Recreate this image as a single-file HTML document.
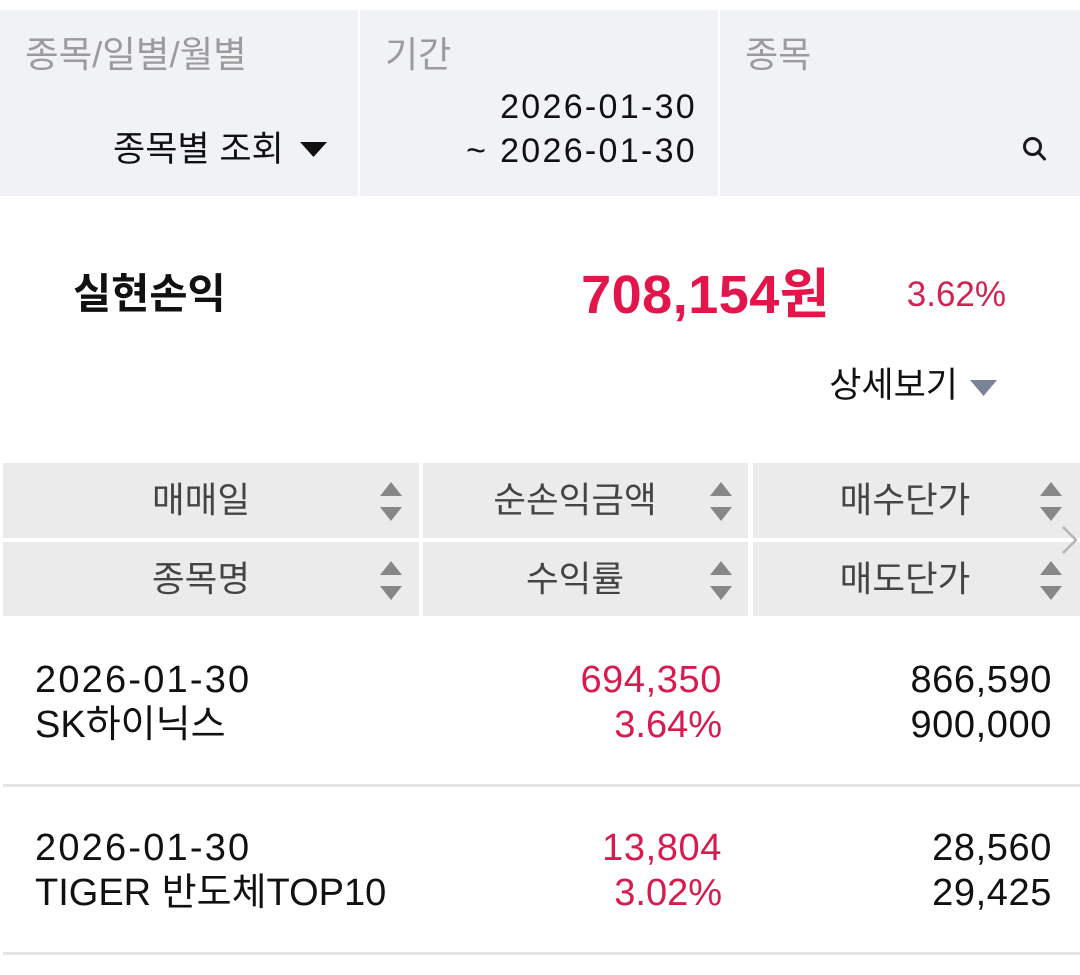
<!DOCTYPE html>
<html>
<head>
<meta charset="utf-8">
<style>
  html, body { margin:0; padding:0; }
  body { width:1080px; height:975px; overflow:hidden; background:#ffffff; position:relative;
         font-family:"Liberation Sans","Noto Sans CJK KR",sans-serif; }
  .a { position:absolute; white-space:nowrap; }
  .panel { position:absolute; top:10px; height:186px; background:#f1f2f6; }
  .th { position:absolute; background:#ebebeb; }
  .thtxt { position:absolute; white-space:nowrap; font-size:35.5px; color:#444; line-height:40px; text-align:center; }
  .sep { position:absolute; left:3px; width:1077px; height:3px; background:#e4e4e4; }
  .num { position:absolute; white-space:nowrap; font-size:38px; line-height:44px; text-align:right; }
  .red { color:#d81b4e; }
  .blk { color:#111; }
</style>
</head>
<body>

<!-- top search panel -->
<div class="panel" style="left:0;width:358px;"></div>
<div class="panel" style="left:360px;width:358px;"></div>
<div class="panel" style="left:720px;width:360px;"></div>

<div class="a" style="left:25px;top:34px;font-size:36.5px;line-height:42px;color:#9b9b9b;">종목/일별/월별</div>
<div class="a" style="left:113px;top:129px;font-size:35px;line-height:42px;color:#111;">종목별 조회</div>
<svg class="a" style="left:300px;top:142px;" width="28" height="16" viewBox="0 0 28 16"><polygon points="0,0 27,0 13.5,15" fill="#111"/></svg>

<div class="a" style="left:385px;top:34px;font-size:36px;line-height:42px;color:#9b9b9b;">기간</div>
<div class="a" style="right:383px;top:86px;font-size:34px;line-height:42px;color:#111;letter-spacing:2.3px;">2026-01-30</div>
<div class="a" style="right:383px;top:130px;font-size:34px;line-height:42px;color:#111;letter-spacing:2.3px;">~ 2026-01-30</div>

<div class="a" style="left:745px;top:34px;font-size:36px;line-height:42px;color:#9b9b9b;">종목</div>
<svg class="a" style="left:1020px;top:135px;" width="30" height="30" viewBox="0 0 30 30">
  <circle cx="12.5" cy="11.5" r="8" fill="none" stroke="#1a1a1a" stroke-width="3"/>
  <line x1="18" y1="17" x2="24.5" y2="24" stroke="#1a1a1a" stroke-width="3" stroke-linecap="round"/>
</svg>

<!-- summary -->
<div class="a" style="left:73px;top:270px;font-size:41.5px;line-height:48px;font-weight:bold;color:#111;">실현손익</div>
<div class="a" style="right:250px;top:264px;font-size:54px;line-height:62px;font-weight:bold;color:#e3154b;letter-spacing:0.5px;">708,154원</div>
<div class="a" style="right:74px;top:274px;font-size:35px;line-height:42px;color:#d1234f;">3.62%</div>

<div class="a" style="right:122px;top:365px;font-size:35px;line-height:42px;color:#111;">상세보기</div>
<svg class="a" style="left:970px;top:380px;" width="28" height="17" viewBox="0 0 28 17"><polygon points="0,0 27,0 13.5,16" fill="#7b8396"/></svg>

<!-- table header -->
<div class="th" style="left:3px;top:463px;width:416px;height:75px;"></div>
<div class="th" style="left:423px;top:463px;width:325px;height:75px;"></div>
<div class="th" style="left:753px;top:463px;width:327px;height:75px;"></div>
<div class="th" style="left:3px;top:542px;width:416px;height:74px;"></div>
<div class="th" style="left:423px;top:542px;width:325px;height:74px;"></div>
<div class="th" style="left:753px;top:542px;width:327px;height:74px;"></div>

<div class="thtxt" style="left:101px;width:200px;top:480px;">매매일</div>
<div class="thtxt" style="left:101px;width:200px;top:559px;">종목명</div>
<div class="thtxt" style="left:475px;width:200px;top:480px;">순손익금액</div>
<div class="thtxt" style="left:475px;width:200px;top:559px;">수익률</div>
<div class="thtxt" style="left:805px;width:200px;top:480px;">매수단가</div>
<div class="thtxt" style="left:805px;width:200px;top:559px;">매도단가</div>

<!-- sort arrows -->
<svg class="a" style="left:379px;top:482px;" width="24" height="40" viewBox="0 0 24 40">
  <polygon points="12,0 23,14 1,14" fill="#878787"/><polygon points="1,25 23,25 12,39" fill="#878787"/></svg>
<svg class="a" style="left:379px;top:561px;" width="24" height="40" viewBox="0 0 24 40">
  <polygon points="12,0 23,14 1,14" fill="#878787"/><polygon points="1,25 23,25 12,39" fill="#878787"/></svg>
<svg class="a" style="left:709px;top:482px;" width="24" height="40" viewBox="0 0 24 40">
  <polygon points="12,0 23,14 1,14" fill="#878787"/><polygon points="1,25 23,25 12,39" fill="#878787"/></svg>
<svg class="a" style="left:709px;top:561px;" width="24" height="40" viewBox="0 0 24 40">
  <polygon points="12,0 23,14 1,14" fill="#878787"/><polygon points="1,25 23,25 12,39" fill="#878787"/></svg>
<svg class="a" style="left:1039px;top:482px;" width="24" height="40" viewBox="0 0 24 40">
  <polygon points="12,0 23,14 1,14" fill="#878787"/><polygon points="1,25 23,25 12,39" fill="#878787"/></svg>
<svg class="a" style="left:1039px;top:561px;" width="24" height="40" viewBox="0 0 24 40">
  <polygon points="12,0 23,14 1,14" fill="#878787"/><polygon points="1,25 23,25 12,39" fill="#878787"/></svg>

<!-- chevron -->
<svg class="a" style="left:1060px;top:525px;" width="20" height="30" viewBox="0 0 20 30">
  <polyline points="3,2 16,15 3,28" fill="none" stroke="#b5b5b5" stroke-width="2.5"/></svg>

<!-- row 1 -->
<div class="num blk" style="left:35px;top:658px;text-align:left;letter-spacing:2.2px;">2026-01-30</div>
<div class="num blk" style="left:35px;top:703px;text-align:left;">SK하이닉스</div>
<div class="num red" style="right:358px;top:658px;letter-spacing:0.6px;">694,350</div>
<div class="num red" style="right:358px;top:703px;">3.64%</div>
<div class="num blk" style="right:28px;top:658px;letter-spacing:0.6px;">866,590</div>
<div class="num blk" style="right:28px;top:703px;letter-spacing:0.6px;">900,000</div>

<div class="sep" style="top:784px;"></div>

<!-- row 2 -->
<div class="num blk" style="left:35px;top:826px;text-align:left;letter-spacing:2.2px;">2026-01-30</div>
<div class="num blk" style="left:35px;top:871px;text-align:left;">TIGER 반도체TOP10</div>
<div class="num red" style="right:358px;top:826px;letter-spacing:0.6px;">13,804</div>
<div class="num red" style="right:358px;top:871px;">3.02%</div>
<div class="num blk" style="right:28px;top:826px;letter-spacing:0.6px;">28,560</div>
<div class="num blk" style="right:28px;top:871px;letter-spacing:0.6px;">29,425</div>

<div class="sep" style="top:952px;"></div>

</body>
</html>
